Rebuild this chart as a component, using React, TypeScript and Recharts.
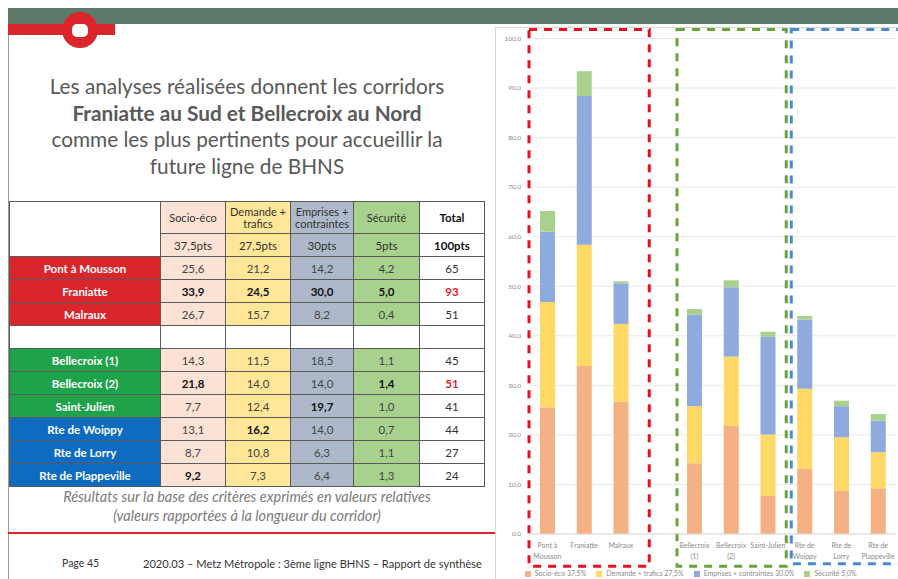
import { Bar, BarChart, CartesianGrid, Legend, ReferenceArea, XAxis, YAxis } from "recharts";

// corridors, in table order (the empty row is also the gap in the chart)
const corridors: string[] = [
    "Pont à Mousson", "Franiatte", "Malraux", " ",
    "Bellecroix (1)", "Bellecroix (2)", "Saint-Julien",
    "Rte de Woippy", "Rte de Lorry", "Rte de Plappeville",
];
const tickLabels: string[][] = [
    ["Pont à", "Mousson"], ["Franiatte"], ["Malraux"], [""],
    ["Bellecroix", "(1)"], ["Bellecroix", "(2)"], ["Saint-Julien"],
    ["Rte de", "Woippy"], ["Rte de", "Lorry"], ["Rte de", "Plappeville"],
];
const groups: string[] = ["red", "red", "red", "", "green", "green", "green", "blue", "blue", "blue"];

const socioEco: (number | null)[] = [25.6, 33.9, 26.7, null, 14.3, 21.8, 7.7, 13.1, 8.7, 9.2];
const demande: (number | null)[] = [21.2, 24.5, 15.7, null, 11.5, 14.0, 12.4, 16.2, 10.8, 7.3];
const emprises: (number | null)[] = [14.2, 30.0, 8.2, null, 18.5, 14.0, 19.7, 14.0, 6.3, 6.4];
const securite: (number | null)[] = [4.2, 5.0, 0.4, null, 1.1, 1.4, 1.0, 0.7, 1.1, 1.3];
const totals: (number | null)[] = [65, 93, 51, null, 45, 51, 41, 44, 27, 24];

// which cells are printed in bold in the table
const boldCells: boolean[][] = [
    [false, false, false, false],
    [true, true, true, true],
    [false, false, false, false],
    [false, false, false, false],
    [false, false, false, false],
    [true, false, false, true],
    [false, false, true, false],
    [false, true, false, false],
    [false, false, false, false],
    [true, false, false, false],
];
const redTotals: boolean[] = [false, true, false, false, false, true, false, false, false, false];

const criteria: string[] = ["Socio-éco", "Demande +\ntrafics", "Emprises +\ncontraintes", "Sécurité"];
const weights: string[] = ["37,5pts", "27,5pts", "30pts", "5pts"];
const seriesNames: string[] = ["Socio-éco 37,5%", "Demande + trafics 27,5%", "Emprises + contraintes 30,0%", "Sécurité 5,0%"];
const yTicks: number[] = [0, 10, 20, 30, 40, 50, 60, 70, 80, 90, 100];

const barColors = ["#F4B183", "#FFD966", "#8FAADC", "#A9D18E"];
const cellColors = ["#FBE2D5", "#FFE699", "#ADB9CA", "#A9D18E"];
const groupColors: Record<string, string> = { red: "#D9252B", green: "#1FA34A", blue: "#0D6CC0", "": "#fff" };

const fmt = (v: number | null) => (v === null ? "" : v.toFixed(1).replace(".", ","));

const data = corridors.map((name, i) => ({
    name,
    socio: socioEco[i],
    demande: demande[i],
    emprises: emprises[i],
    securite: securite[i],
}));

const XTick = (props: any) => {
    const { x, y, index } = props;
    const lines = tickLabels[index] ?? [];
    return (
        <g>
            {lines.map((l, k) => (
                <text key={k} x={x} y={y + 6 + k * 11} textAnchor="middle" fontSize={7} fill="#8a8a8a">
                    {l}
                </text>
            ))}
        </g>
    );
};

const dashedBox = (color: string, padLeft: number, padRight: number) => (p: any) => (
    <rect
        x={p.x + padLeft}
        y={p.y}
        width={p.width - padLeft + padRight}
        height={p.height}
        fill="none"
        stroke={color}
        strokeWidth={3}
        strokeDasharray="8 7"
    />
);

const cell = { border: "1px solid #5a5a5a", padding: 0, textAlign: "center" as const, height: 22 };

function Slide() {
    return (
        <div style={{ position: "absolute", left: 0, top: 0, width: 898, height: 579, background: "#fff", overflow: "hidden", fontFamily: "Lato, 'Open Sans', sans-serif" }}>
            {/* header band and logo */}
            <div style={{ position: "absolute", left: 8, top: 8, width: 890, height: 16, background: "#5E7A6B" }} />
            <div style={{ position: "absolute", left: 8, top: 24, width: 107, height: 11, background: "#D9252B" }} />
            <div style={{ position: "absolute", left: 62, top: 12, width: 36, height: 36, borderRadius: 18, background: "#D9252B" }} />
            <div style={{ position: "absolute", left: 72, top: 24, width: 16, height: 13, borderRadius: 5, background: "#fff" }} />
            <div style={{ position: "absolute", left: 8, top: 35, width: 1, height: 544, background: "#9a9a9a" }} />

            {/* title */}
            <div style={{ position: "absolute", left: 8, top: 73, width: 478, textAlign: "center", color: "#595959", fontSize: 20.8, lineHeight: "26.5px", whiteSpace: "nowrap" }}>
                Les analyses réalisées donnent les corridors<br />
                <b>Franiatte au Sud et Bellecroix au Nord</b><br />
                comme les plus pertinents pour accueillir la<br />
                future ligne de BHNS
            </div>

            {/* table */}
            <table style={{ position: "absolute", left: 9, top: 201, borderCollapse: "collapse", fontSize: 11.5, color: "#333", tableLayout: "fixed" }}>
                <colgroup>
                    <col style={{ width: 151 }} />
                    <col style={{ width: 65 }} />
                    <col style={{ width: 65 }} />
                    <col style={{ width: 63 }} />
                    <col style={{ width: 66 }} />
                    <col style={{ width: 65 }} />
                </colgroup>
                <tbody>
                    <tr>
                        <td rowSpan={2} style={{ ...cell, background: "#fff" }} />
                        {criteria.map((c, j) => (
                            <td key={j} style={{ ...cell, height: 31, background: cellColors[j], whiteSpace: "pre-line", lineHeight: "12px", fontSize: 11 }}>{c}</td>
                        ))}
                        <td style={{ ...cell, fontWeight: 700, color: "#111" }}>Total</td>
                    </tr>
                    <tr>
                        {weights.map((w, j) => (
                            <td key={j} style={{ ...cell, background: cellColors[j] }}>{w}</td>
                        ))}
                        <td style={{ ...cell, fontWeight: 700, color: "#111" }}>100pts</td>
                    </tr>
                    {corridors.map((name, i) => {
                        const vals = [socioEco[i], demande[i], emprises[i], securite[i]];
                        const empty = groups[i] === "";
                        return (
                            <tr key={i}>
                                <td style={{ ...cell, background: groupColors[groups[i]], color: "#fff", fontWeight: 700 }}>{empty ? "" : name}</td>
                                {vals.map((v, j) => (
                                    <td key={j} style={{ ...cell, background: empty ? "#fff" : cellColors[j], fontWeight: boldCells[i][j] ? 700 : 400, color: boldCells[i][j] ? "#111" : "#444" }}>{fmt(v)}</td>
                                ))}
                                <td style={{ ...cell, color: redTotals[i] ? "#E0202A" : "#333", fontWeight: redTotals[i] ? 700 : 400 }}>{totals[i] ?? ""}</td>
                            </tr>
                        );
                    })}
                </tbody>
            </table>

            <div style={{ position: "absolute", left: 8, top: 487, width: 478, textAlign: "center", color: "#7a7a7a", fontSize: 14.5, fontStyle: "italic", lineHeight: "19px", whiteSpace: "nowrap" }}>
                Résultats sur la base des critères exprimés en valeurs relatives<br />
                (valeurs rapportées à la longueur du corridor)
            </div>
            <div style={{ position: "absolute", left: 8, top: 532, width: 487, height: 2, background: "#D9252B" }} />
            <div style={{ position: "absolute", left: 62, top: 557, fontSize: 10.5, color: "#333" }}>Page 45</div>
            <div style={{ position: "absolute", left: 143, top: 557, fontSize: 11.1, color: "#333", whiteSpace: "nowrap" }}>
                2020.03 – Metz  Métropole : 3ème ligne BHNS – Rapport de synthèse
            </div>

            {/* chart panel */}
            <div style={{ position: "absolute", left: 495, top: 27, width: 403, height: 552, borderLeft: "1px solid #d8d8d8", borderTop: "1px solid #d8d8d8" }} />
            <div style={{ position: "absolute", left: 495, top: 24 }}>
                <BarChart width={403} height={555} data={data} margin={{ top: 14.5, right: 1.5, left: 0, bottom: 0 }}>
                    <CartesianGrid vertical={false} stroke="#e9e9e9" />
                    <XAxis dataKey="name" height={33} interval={0} tick={<XTick />} tickLine={false} axisLine={{ stroke: "#dcdcdc" }} />
                    <YAxis width={34} domain={[0, 100]} ticks={yTicks} tickFormatter={(v: number) => fmt(v)} tick={{ fontSize: 6.5, fill: "#8a8a8a" }} tickLine={false} axisLine={false} />
                    <Legend
                        verticalAlign="bottom"
                        iconType="square"
                        iconSize={6}
                        itemSorter={(item: any) => seriesNames.indexOf(item.value)}
                        wrapperStyle={{ height: 12, lineHeight: "12px", fontSize: 7, paddingRight: 10 }}
                        formatter={(v: string) => <span style={{ color: "#8a8a8a" }}>{v}</span>}
                    />
                    <Bar dataKey="socio" name={seriesNames[0]} stackId="a" fill={barColors[0]} barSize={15} isAnimationActive={false} />
                    <Bar dataKey="demande" name={seriesNames[1]} stackId="a" fill={barColors[1]} barSize={15} isAnimationActive={false} />
                    <Bar dataKey="emprises" name={seriesNames[2]} stackId="a" fill={barColors[2]} barSize={15} isAnimationActive={false} />
                    <Bar dataKey="securite" name={seriesNames[3]} stackId="a" fill={barColors[3]} barSize={15} isAnimationActive={false} />
                    <ReferenceArea x1={corridors[0]} x2={corridors[2]} y1={-6.5} y2={101.8} ifOverflow="visible" shape={dashedBox("#E8101E", 0, 10)} />
                    <ReferenceArea x1={corridors[4]} x2={corridors[6]} y1={-6.5} y2={101.8} ifOverflow="visible" shape={dashedBox("#6AA33A", 1, 0)} />
                    <ReferenceArea x1={corridors[7]} x2={corridors[9]} y1={-6.0} y2={101.8} ifOverflow="visible" shape={dashedBox("#4A8BD0", 5, 30)} />
                </BarChart>
            </div>
        </div>
    );
}

export default function App() {
    return <Slide />;
}
